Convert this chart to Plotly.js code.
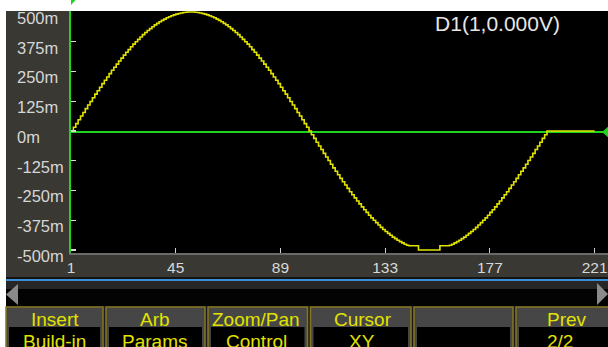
<!DOCTYPE html>
<html>
<head>
<meta charset="utf-8">
<script src="https://cdn.plot.ly/plotly-3.0.1.min.js"></script>
<style>
  html, body { margin: 0; padding: 0; background: #ffffff; overflow: hidden; }
  #chart { width: 608px; height: 347px; }
</style>
</head>
<body>
<div id="chart"></div>
<script>
// Arbitrary waveform points (mV), one value per sample point 1..221
const waveformMv = [
  0, 16, 31, 47, 63, 78, 94, 109, 124, 140, 155, 169, 184, 199, 213, 227, 241, 255, 268, 281,
  294, 306, 319, 331, 342, 354, 365, 375, 385, 395, 405, 414, 422, 430, 438, 446, 452, 459, 465, 470,
  476, 480, 484, 488, 491, 494, 496, 498, 499, 500, 500,
  500, 499, 498, 496, 494, 491, 488, 484, 480, 476, 470, 465, 459, 452, 446, 438, 430, 422, 414, 405,
  395, 385, 375, 365, 354, 342, 331, 319, 306, 294, 281, 268, 255, 241, 227, 213, 199, 184, 169, 155,
  140, 124, 109, 94, 78, 63, 47, 31, 16,
  0,
  -16, -31, -47, -63, -78, -94, -109, -124, -140, -155, -169, -184, -199, -213, -227, -241, -255, -268, -281, -294,
  -306, -319, -331, -342, -354, -365, -375, -385, -395, -405, -414, -422, -430, -438, -446, -452, -459, -465, -470, -476,
  -480, -482, -482, -482, -482,
  -500, -500, -500, -500, -500, -500, -500, -500, -500,
  -482, -482, -482, -482, -480,
  -476, -470, -465, -459, -452, -446, -438, -430, -422, -414, -405, -395, -385, -375, -365, -354, -342, -331, -319, -306,
  -294, -281, -268, -255, -241, -227, -213, -199, -184, -169, -155, -140, -124, -109, -94, -78, -63, -47, -31, -16,
  0,
  0, 0, 0, 0, 0, 0, 0, 0, 0, 0, 0, 0, 0, 0, 0, 0, 0, 0, 0, 0
];

// Axis ticks
const xTickVals = [1, 45, 89, 133, 177, 221];
const xTickText = ['1', '45', '89', '133', '177', '221'];
const yTickVals = [500, 375, 250, 125, 0, -125, -250, -375, -500];
const yTickText = ['500m', '375m', '250m', '125m', '0m', '-125m', '-250m', '-375m', '-500m'];

// Cursor readout and soft-key menu
const cursorLabel = 'D1(1,0.000V)';
const softkeyTop = ['Insert', 'Arb', 'Zoom/Pan', 'Cursor', '', 'Prev'];
const softkeyBottom = ['Build-in', 'Params', 'Control', 'XY', '', '2/2'];

// ---------------------------------------------------------------
const W = 608, H = 347;
const px = v => v / W;          // pixel column -> paper x
const py = v => 1 - v / H;      // pixel row -> paper y

const sampleIndex = waveformMv.map((_, i) => i + 1);
const xRange = [1, 1 + 537 / 2.38];
const yRange = [-512.6, 504.2];

const SANS = "'Liberation Sans', Arial, sans-serif";

const PANEL = '#393832';
const GREEN = '#1ed41e';
const YELLOW = '#e2e200';
const GOLD = '#85771f';

function rect(x0, y0, x1, y1, fill, extra) {
  return Object.assign({
    type: 'rect', xref: 'paper', yref: 'paper', layer: 'below',
    x0: px(x0), x1: px(x1), y0: py(y1), y1: py(y0),
    fillcolor: fill, line: { width: 0 }
  }, extra || {});
}
function tri(points, fill) {
  const d = points.map((p, i) => (i ? 'L' : 'M') + px(p[0]) + ',' + py(p[1])).join(' ') + ' Z';
  return { type: 'path', xref: 'paper', yref: 'paper', layer: 'below', path: d, fillcolor: fill, line: { width: 0 } };
}

const shapes = [
  rect(6, 11, 71, 253, PANEL),            // y label panel
  rect(6, 253, 608, 277, PANEL),          // x label band
  rect(71, 11, 608, 253, '#000000'),      // plot area
  rect(6, 277, 608, 279, '#141414'),
  rect(6, 279, 608, 281, '#3b8ed6'),      // blue divider
  rect(6, 281, 608, 289, '#262626'),      // scroll bar
  rect(6, 289, 608, 306, '#030303'),
  tri([[6, 294.5], [18, 284], [18, 305]], '#8a8a8a'),
  tri([[608, 294], [597, 283], [597, 305]], '#8a8a8a'),
  rect(6, 306, 608, 347, '#1c1c1c')       // soft-key strip
];

// Soft-key buttons
const keyEdges = [[6, 103], [106, 205], [208, 307.5], [310.5, 411], [414, 513], [516, 614]];
const keyTopX = [54.5, 155, 255.5, 362.5, 463.5, 567];
const keyBotX = [54.5, 155, 256.5, 361.5, 463.5, 559.5];
keyEdges.forEach(([a, b]) => {
  shapes.push(rect(a, 307, b, 349, '#464646', { line: { color: GOLD, width: 1.5 } }));
  shapes.push(rect(a + 3, 327, b - 3, 349, '#000000'));
});

// Zero cursor line and its markers
shapes.push({
  type: 'line', xref: 'paper', yref: 'y', layer: 'below',
  x0: px(71), x1: 1, ysizemode: 'pixel', yanchor: 0, y0: -1, y1: -1,
  line: { color: GREEN, width: 2 }
});
shapes.push({
  type: 'path', xref: 'paper', yref: 'y', layer: 'below',
  xsizemode: 'pixel', xanchor: 1, ysizemode: 'pixel', yanchor: 0,
  path: 'M1,5 L-6,-1 L1,-7 Z', fillcolor: GREEN, line: { width: 0 }
});
shapes.push({
  type: 'path', xref: 'x', yref: 'paper', layer: 'below',
  xsizemode: 'pixel', xanchor: xRange[0], ysizemode: 'pixel', yanchor: 1,
  path: 'M-5.5,1 L5.5,1 L0,-5 Z', fillcolor: GREEN, line: { width: 0 }
});

const annotations = [];
softkeyTop.forEach((t, i) => {
  if (!t) return;
  annotations.push({ xref: 'paper', yref: 'paper', x: px(keyTopX[i]), y: py(319.5),
    xanchor: 'center', yanchor: 'middle', showarrow: false, text: t,
    font: { family: SANS, size: 19, color: YELLOW } });
});
softkeyBottom.forEach((t, i) => {
  if (!t) return;
  annotations.push({ xref: 'paper', yref: 'paper', x: px(keyBotX[i]), y: py(341.5),
    xanchor: 'center', yanchor: 'middle', showarrow: false, text: t,
    font: { family: SANS, size: 19, color: YELLOW } });
});

const traces = [
  {
    type: 'scatter', mode: 'lines', x: sampleIndex, y: waveformMv,
    line: { color: YELLOW, width: 1.6, shape: 'hv' },
    hoverinfo: 'skip', showlegend: false
  },
  { type: 'scatter', mode: 'lines', x: [], y: [], yaxis: 'y2', hoverinfo: 'skip', showlegend: false }
];

const layout = {
  width: W, height: H,
  margin: { l: 0, r: 0, t: 0, b: 0, pad: 0 },
  paper_bgcolor: '#ffffff',
  plot_bgcolor: 'rgba(0,0,0,0)',
  showlegend: false,
  title: {
    text: cursorLabel, x: px(497.5), xanchor: 'center', y: py(24), yanchor: 'middle',
    font: { family: SANS, size: 21, color: '#e6e6e6' }
  },
  xaxis: {
    domain: [px(71), 1], range: xRange, fixedrange: true,
    showgrid: false, zeroline: false,
    showline: true, linecolor: '#6a6a6a', linewidth: 1.5,
    ticks: 'inside', ticklen: 5, tickwidth: 1.2, tickcolor: '#cfcfcf',
    tickmode: 'array', tickvals: xTickVals, ticktext: xTickText,
    ticklabelstandoff: 0, ticklabeloverflow: 'allow',
    tickfont: { family: SANS, size: 15.5, color: '#d8d8d8' }
  },
  yaxis: {
    domain: [1 - 253 / H, 1 - 11 / H], range: yRange, fixedrange: true,
    showgrid: false, zeroline: false,
    showline: true, linecolor: GREEN, linewidth: 2,
    ticks: 'inside', ticklen: 5, tickwidth: 1.2, tickcolor: '#d8d8d8',
    tickmode: 'array', tickvals: yTickVals, showticklabels: false
  },
  yaxis2: {
    overlaying: 'y', anchor: 'free', position: px(13), side: 'left',
    range: yRange, fixedrange: true,
    showgrid: false, zeroline: false, showline: false, ticks: '',
    tickmode: 'array', tickvals: yTickVals, ticktext: yTickText,
    ticklabelposition: 'inside', ticklabeloverflow: 'allow', ticklabelshift: 6,
    tickfont: { family: SANS, size: 16.5, color: '#d6d6d6' }
  },
  shapes: shapes,
  annotations: annotations
};

Plotly.newPlot('chart', traces, layout, { staticPlot: true, displayModeBar: false });
</script>
</body>
</html>
